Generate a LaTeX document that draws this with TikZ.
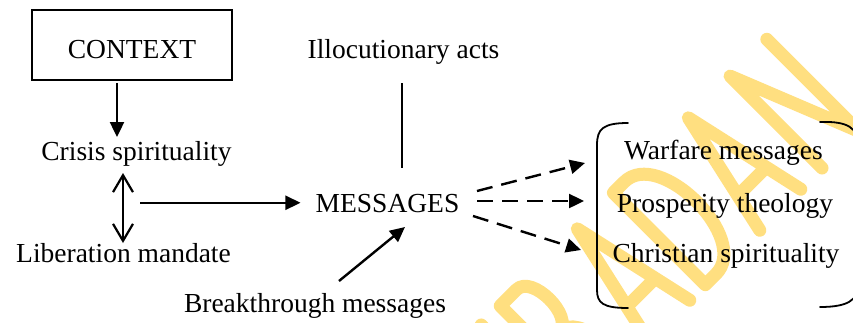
\documentclass[tikz,border=0pt]{standalone}
\usepackage{fontspec}
\setmainfont{Liberation Serif}
\usetikzlibrary{arrows.meta}
\definecolor{wmark}{RGB}{255,223,128}
\begin{document}
\begin{tikzpicture}[x=1pt,y=-1pt,
  lbl/.style={font=\fontsize{27.5}{33}\selectfont, inner sep=0pt, anchor=base},
  arr/.style={line width=2.4pt, -{Triangle[length=15pt,width=14pt]}},
  darr/.style={arr, dash pattern=on 16pt off 9pt},
  twoway/.style={line width=2.2pt, {Straight Barb[length=17pt,width=20pt]}-{Straight Barb[length=17pt,width=20pt]}},
  brace/.style={line width=1.8pt, line cap=round},
  wm/.style={draw=wmark, line width=13pt, line cap=round, line join=round}]
\useasboundingbox (0,0) rectangle (853,322);
\clip (0,0) rectangle (853,322);
\fill[white] (0,0) rectangle (853,322);

% diagonal stroke lettering in the background
\begin{scope}[shift={(822,168)}]
\begin{scope}[x={(0.7071pt,0.7071pt)}, y={(-0.7071pt,0.7071pt)}]
  \draw[wm] (-352,0) -- (-352,130);
  \draw[wm] (-325,0) -- (-325,130) -- (-302,130)
            .. controls (-280,130) and (-280,70) .. (-302,70) -- (-325,70)
            (-302,70) .. controls (-272,70) and (-272,0) .. (-300,0) -- (-325,0);
  \draw[wm] (-245,0) -- (-216,130) -- (-187,0) (-236,40) -- (-196,40);
  \draw[wm] (-165,0) -- (-165,130) -- (-150,130)
            .. controls (-100,130) and (-100,0) .. (-150,0) -- cycle;
  \draw[wm] (-88,0) -- (-59,130) -- (-30,0) (-79,40) -- (-39,40);
  \draw[wm] (0,0) -- (0,130) -- (52,0) -- (52,130);
\end{scope}
\end{scope}

% nodes
\node[draw, line width=1.5pt, minimum width=200pt, minimum height=70pt,
      font=\fontsize{27.5}{33}\selectfont, text height=26pt, text depth=0pt,
      inner sep=0pt] (ctx) at (132,45) {CONTEXT};
\node[lbl] (crisis) at (136.5,160) {Crisis spirituality};
\node[lbl] (lib) at (123.5,262) {Liberation mandate};
\node[lbl] (msg) at (387.5,212) {MESSAGES};
\node[lbl] (illo) at (403.5,58) {Illocutionary acts};
\node[lbl] (brk) at (315,312) {Breakthrough messages};
\node[lbl] (war) at (723.5,159) {Warfare messages};
\node[lbl] (pros) at (725,212) {Prosperity theology};
\node[lbl] (chr) at (726,262) {Christian spirituality};
\coordinate (cl) at (140,202.75);

% connectors
\draw[arr] ([xshift=-15pt,yshift=-2pt]ctx.south) -- ([xshift=-19.5pt,yshift=23pt]crisis.base);
\draw[twoway] ([xshift=-13.5pt,yshift=-13pt]crisis.base) -- ([xshift=-0.5pt,yshift=19pt]lib.base);
\draw[arr, shorten >=15pt] (cl) -- (cl -| msg.west);
\draw[line width=1.3pt] ([xshift=-1.5pt,yshift=-25pt]illo.base) -- ([xshift=14.5pt,yshift=44pt]msg.base);
\draw[arr] ([xshift=24pt,yshift=31pt]brk.base) -- ([xshift=17.5pt,yshift=-15pt]msg.base);
\draw[darr] ([xshift=89.5pt,yshift=21pt]msg.base) -- ([xshift=-138.5pt,yshift=-4pt]war.base);
\draw[darr] ([xshift=89.5pt,yshift=11pt]msg.base) -- ([xshift=-141pt,yshift=11pt]pros.base);
\draw[darr] ([xshift=85.5pt,yshift=-4pt]msg.base) -- ([xshift=-145pt,yshift=12pt]chr.base);

% brackets around the three outcomes
\draw[brace] (628,123) .. controls (603,123) and (597,129) .. (597,145)
             -- (597,290) .. controls (597,303) and (603,308) .. (628,308);
\draw[brace] (820,122) .. controls (848,121) and (858,128) .. (858,145)
             -- (858,285) .. controls (858,300) and (848,307) .. (820,307);
\end{tikzpicture}
\end{document}
